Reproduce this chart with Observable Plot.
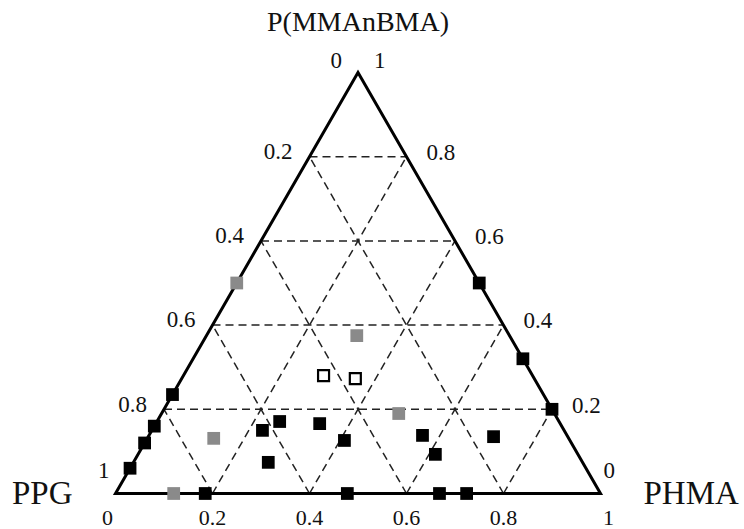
<!DOCTYPE html>
<html><head><meta charset="utf-8">
<script src="https://cdn.jsdelivr.net/npm/d3@7"></script>
<script src="https://cdn.jsdelivr.net/npm/@observablehq/plot@0.6"></script>
<style>html,body{margin:0;padding:0;background:#fff;overflow:hidden}</style>
</head><body><div id="chart"></div>
<script>
// Vertex names: bottom-left, bottom-right, top
const vertexNames = ["PPG", "PHMA", "P(MMAnBMA)"];
// Grid fractions and their tick labels
const gridFractions = [0.2, 0.4, 0.6, 0.8];
const tickLabels = ["0.2", "0.4", "0.6", "0.8"];
const endLabels = ["0", "1"];

// Samples: kind, and mass fractions of each component
const sampleKind = [
  "black","black","black","black","black","black","black","black","black","black",
  "black","black","black","black","black","black","black","black","black",
  "gray","gray","gray","gray","gray",
  "open","open"
];
const ppgFrac = [
  0.765, 0.84, 0.88, 0.94, 0.815, 0.522, 0.332, 0.276, 0.0, 0.0,
  0.0, 0.622, 0.576, 0.648, 0.496, 0.465, 0.298, 0.294, 0.153,
  0.5, 0.88, 0.732, 0.321, 0.315,
  0.431, 0.369
];
const phmaFrac = [
  0.0, 0.0, 0.0, 0.0, 0.185, 0.478, 0.668, 0.724, 0.5, 0.68,
  0.8, 0.228, 0.253, 0.278, 0.338, 0.409, 0.564, 0.613, 0.712,
  0.0, 0.12, 0.137, 0.489, 0.31,
  0.289, 0.358
];
const pmmaFrac = [
  0.235, 0.16, 0.12, 0.06, 0.0, 0.0, 0.0, 0.0, 0.5, 0.32,
  0.2, 0.15, 0.171, 0.074, 0.166, 0.126, 0.138, 0.093, 0.135,
  0.5, 0.0, 0.131, 0.19, 0.375,
  0.28, 0.273
];

// ternary -> cartesian (x along base, y = top fraction)
const tx = (b, c) => b + c / 2;

const samples = sampleKind.map((k, i) => ({kind: k, ppg: ppgFrac[i], phma: phmaFrac[i], pmma: pmmaFrac[i]}));

const grid = gridFractions.flatMap(t => [
  {b1: 0, c1: t, b2: 1 - t, c2: t},        // constant P(MMAnBMA)
  {b1: t, c1: 0, b2: t, c2: 1 - t},        // constant PHMA
  {b1: 1 - t, c1: 0, b2: 0, c2: 1 - t}     // constant PPG
]);

const outline = [{b:0,c:0},{b:1,c:0},{b:0,c:1},{b:0,c:0},{b:1,c:0}];

const leftTicks = gridFractions.map((v, i) => ({b: 0, c: 1 - v, label: tickLabels[i]}));
const rightTicks = gridFractions.map((v, i) => ({b: 1 - v, c: v, label: tickLabels[i]}));
const bottomTicks = gridFractions.map((v, i) => ({b: v, c: 0, label: tickLabels[i]}));

const fontTick = 23;
const fontBottom = 22;
const font = "Liberation Serif, Times New Roman, serif";

const chart = Plot.plot({
  width: 744,
  height: 529,
  marginLeft: 115,
  marginRight: 144,
  marginTop: 72,
  marginBottom: 36,
  x: {domain: [0, 1], axis: null},
  y: {domain: [0, 1], axis: null},
  style: {fontFamily: font, background: "#fff", color: "#111"},
  marks: [
    Plot.link(grid, {
      x1: d => tx(d.b1, d.c1), y1: "c1", x2: d => tx(d.b2, d.c2), y2: "c2",
      stroke: "#222", strokeWidth: 1.5, strokeDasharray: "8,5"
    }),
    Plot.line(outline, {
      x: d => tx(d.b, d.c), y: "c",
      stroke: "#000", strokeWidth: 3, strokeLinejoin: "miter", strokeMiterlimit: 10
    }),
    Plot.dot(samples.filter(d => d.kind !== "open"), {
      x: d => tx(d.phma, d.pmma), y: "pmma", symbol: "square", r: 7.2,
      fill: d => d.kind === "gray" ? "#8a8a8a" : "#000", stroke: "none"
    }),
    Plot.dot(samples.filter(d => d.kind === "open"), {
      x: d => tx(d.phma, d.pmma), y: "pmma", symbol: "square", r: 6.2,
      fill: "#fff", stroke: "#000", strokeWidth: 2.2
    }),
    // left (PPG) tick labels
    Plot.text(leftTicks, {x: d => tx(d.b, d.c), y: "c", text: "label", textAnchor: "end", dx: -17, dy: -5, fontSize: fontTick, fill: "#111"}),
    // right (P(MMAnBMA)) tick labels
    Plot.text(rightTicks, {x: d => tx(d.b, d.c), y: "c", text: "label", textAnchor: "start", dx: 20, dy: -4, fontSize: fontTick, fill: "#111"}),
    // bottom (PHMA) tick labels
    Plot.text(bottomTicks, {x: d => tx(d.b, d.c), y: "c", text: "label", textAnchor: "middle", dy: 24, fontSize: fontBottom, fill: "#111"}),
    // end labels at vertices
    Plot.text([{b:0,c:1}], {x: d => tx(d.b, d.c), y: "c", text: [endLabels[0]], textAnchor: "end", dx: -16, dy: -12, fontSize: fontTick, fill: "#111"}),
    Plot.text([{b:0,c:1}], {x: d => tx(d.b, d.c), y: "c", text: [endLabels[1]], textAnchor: "start", dx: 16, dy: -12, fontSize: fontTick, fill: "#111"}),
    Plot.text([{b:0,c:0}], {x: d => tx(d.b, d.c), y: "c", text: [endLabels[1]], textAnchor: "end", dx: -6, dy: -23, fontSize: fontTick, fill: "#111"}),
    Plot.text([{b:0,c:0}], {x: d => tx(d.b, d.c), y: "c", text: [endLabels[0]], textAnchor: "middle", dx: -8, dy: 24, fontSize: fontBottom, fill: "#111"}),
    Plot.text([{b:1,c:0}], {x: d => tx(d.b, d.c), y: "c", text: [endLabels[0]], textAnchor: "start", dx: 3, dy: -23, fontSize: fontTick, fill: "#111"}),
    Plot.text([{b:1,c:0}], {x: d => tx(d.b, d.c), y: "c", text: [endLabels[1]], textAnchor: "middle", dx: 8, dy: 24, fontSize: fontBottom, fill: "#111"}),
    // vertex names
    Plot.text([{b:0,c:1}], {x: d => tx(d.b, d.c), y: "c", text: [vertexNames[2]], textAnchor: "middle", dy: -50, fontSize: 28, fill: "#111"}),
    Plot.text([{b:0,c:0}], {x: d => tx(d.b, d.c), y: "c", text: [vertexNames[0]], textAnchor: "end", dx: -43, dy: 0, fontSize: 33, fill: "#111"}),
    Plot.text([{b:1,c:0}], {x: d => tx(d.b, d.c), y: "c", text: [vertexNames[1]], textAnchor: "start", dx: 43, dy: 0, fontSize: 33, fill: "#111"})
  ]
});
document.getElementById("chart").appendChild(chart);
</script>
</body></html>
